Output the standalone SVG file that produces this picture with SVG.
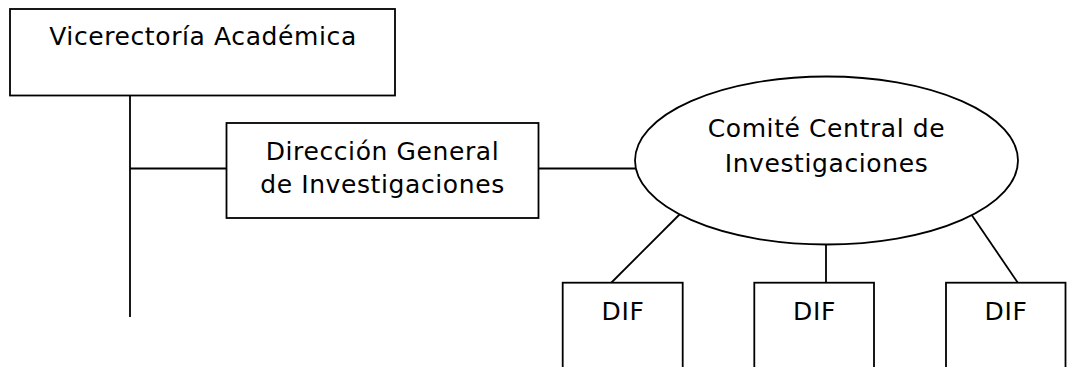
<svg xmlns="http://www.w3.org/2000/svg" width="1067" height="367" viewBox="0 0 1067 367">
<style>
.box{fill:#fff;stroke:#000;stroke-width:1.8}
.ln{fill:none;stroke:#000;stroke-width:1.8}
text{font-family:"DejaVu Sans","Liberation Sans",sans-serif;font-size:25px;letter-spacing:0.6px;fill:#000;text-anchor:middle}
</style>
<rect width="1067" height="367" fill="#fff"/>
<g id="connectors">
<line class="ln" x1="130" y1="94" x2="130" y2="317"/>
<line class="ln" x1="130" y1="168.5" x2="226.5" y2="168.5"/>
<line class="ln" x1="538.5" y1="168.5" x2="635" y2="168.5"/>
<line class="ln" x1="681.5" y1="212.5" x2="611" y2="283"/>
<line class="ln" x1="826" y1="236.5" x2="826" y2="283"/>
<line class="ln" x1="970" y1="212.5" x2="1018" y2="283"/>
</g>
<g id="vicerectoria">
<rect class="box" x="10" y="9" width="385" height="86.5"/>
<text x="203" y="45">Vicerectoría Académica</text>
</g>
<g id="direccion">
<rect class="box" x="226.5" y="123" width="312" height="95"/>
<text x="382.5" y="160">Dirección General</text>
<text x="382.5" y="193">de Investigaciones</text>
</g>
<g id="comite">
<ellipse class="box" cx="826.5" cy="160.5" rx="191.5" ry="84"/>
<text x="826.5" y="136.7">Comité Central de</text>
<text x="826.5" y="171.7">Investigaciones</text>
</g>
<g id="dif1">
<rect class="box" x="562.7" y="282.7" width="120" height="110"/>
<text x="623" y="320">DIF</text>
</g>
<g id="dif2">
<rect class="box" x="754.3" y="282.7" width="119.7" height="110"/>
<text x="814.5" y="320">DIF</text>
</g>
<g id="dif3">
<rect class="box" x="946" y="282.7" width="119.5" height="110"/>
<text x="1006" y="320">DIF</text>
</g>
</svg>
